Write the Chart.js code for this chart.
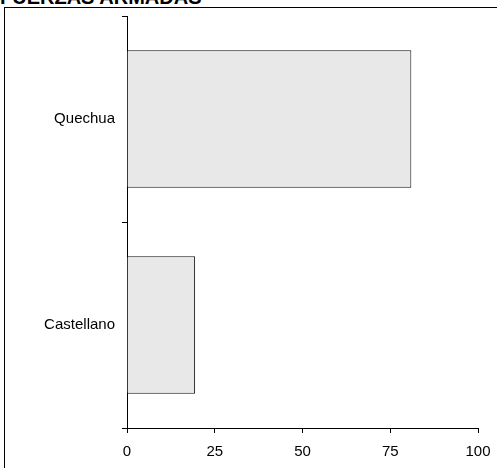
<!DOCTYPE html>
<html>
<head>
<meta charset="utf-8">
<script src="https://cdn.jsdelivr.net/npm/chart.js@4"></script>
<style>
  html, body { margin: 0; padding: 0; background: #fff; overflow: hidden; }
  #wrap { position: relative; width: 497px; height: 468px; overflow: hidden; }
  #title {
    position: absolute; left: 0; top: -13px;
    font: bold 20px/20px "Liberation Sans", Arial, sans-serif; color: #000;
    white-space: nowrap;
  }
  #frame {
    position: absolute; left: 4px; top: 7px; width: 600px; height: 600px;
    border-left: 1px solid #000; border-top: 1px solid #000;
  }
  #c { position: absolute; left: 0; top: 0; }
</style>
</head>
<body>
<div id="wrap">
  <div id="title">FUERZAS ARMADAS</div>
  <div id="frame"></div>
  <canvas id="c" width="497" height="468"></canvas>
</div>
<script>
const categories = ["Quechua", "Castellano"];
const values = [81.0, 19.4];
const xTicks = [0, 25, 50, 75, 100];

const font = { family: "'Liberation Sans', Arial, sans-serif", size: 15 };

new Chart(document.getElementById('c'), {
    type: 'bar',
    data: {
        labels: categories,
        datasets: [{
            data: values,
            backgroundColor: '#e8e8e8',
            borderColor: '#111',
            borderWidth: 1,
            barPercentage: 0.667,
            categoryPercentage: 1
        }]
    },
    options: {
        indexAxis: 'y',
        responsive: false,
        animation: false,
        layout: { padding: { left: 0, right: 19, top: 14, bottom: 0 } },
        plugins: { legend: { display: false }, tooltip: { enabled: false } },
        scales: {
            x: {
                min: 0, max: 100,
                afterBuildTicks: axis => { axis.ticks = xTicks.map(v => ({ value: v })); },
                afterFit: axis => { axis.height = 40; axis.paddingRight = 0; },
                grid: { drawOnChartArea: false, tickLength: 5, color: '#000', tickColor: '#000' },
                border: { color: '#000', width: 1 },
                ticks: { color: '#000', font: font, padding: 10, maxRotation: 0 }
            },
            y: {
                afterFit: axis => { axis.width = 127; },
                grid: { drawOnChartArea: false, offset: true, tickLength: 5, color: '#000', tickColor: '#000' },
                border: { color: '#000', width: 1 },
                ticks: { color: '#000', font: font, padding: 7 }
            }
        }
    }
});
</script>
</body>
</html>
